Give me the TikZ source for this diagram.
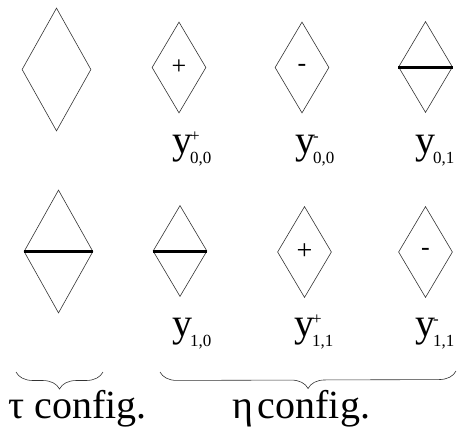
\documentclass[tikz,border=0pt]{standalone}
\usepackage{fontspec}
\setmainfont{Liberation Serif}
\usetikzlibrary{shapes.geometric,decorations.pathreplacing}
\newcommand\ylab[2]{\fontsize{40}{40}\selectfont y\kern-0.05em\rlap{\raisebox{0.3em}{\fontsize{17}{17}\selectfont #1}}\raisebox{-0.25em}{\fontsize{17}{17}\selectfont #2}}
\tikzset{
  dia/.style={draw=black!80, line width=0.6pt, shape=diamond, inner sep=0pt},
  bigdia/.style={dia, minimum width=69pt, minimum height=123pt},
  smalldia/.style={dia, minimum width=54pt, minimum height=91pt},
  bar/.style={line width=3pt, black},
  sign/.style={font=\fontsize{26}{26}\selectfont, inner sep=0pt},
  lab/.style={anchor=base west, inner sep=0pt},
  cfg/.style={anchor=base west, inner sep=0pt, font=\fontsize{40}{40}\selectfont},
  brc/.style={decorate, decoration={brace, amplitude=17pt, mirror}, line width=0.6pt, black!80}
}
\begin{document}
\begin{tikzpicture}[x=1pt, y=-1pt]
\useasboundingbox (0,0) rectangle (457,428);
% row 1
\node[bigdia] (t1) at (56.5,69.5) {};
\node[smalldia] (a1) at (179,67.5) {};
\node[smalldia] (b1) at (302,67.5) {};
\node[smalldia] (c1) at (425.5,67) {};
\node[sign] (sa1) at (a1.center) {+};
\node[sign] (sb1) at (b1.center) {-};
\draw[bar] (c1.west) -- (c1.east);
% row 2
\node[bigdia] (t2) at (58.5,251.5) {};
\node[smalldia] (a2) at (180,251) {};
\node[smalldia] (b2) at (304.5,252) {};
\node[smalldia] (c2) at (425.5,252) {};
\draw[bar] (t2.west) -- (t2.east);
\draw[bar] (a2.west) -- (a2.east);
\node[sign, font=\fontsize{28}{28}\selectfont] (sb2) at (b2.center) {+};
\node[sign] (sc2) at (c2.center) {-};
% labels
\node[lab] (la1) at (172,153) {\ylab{+}{0,0}};
\node[lab] (lb1) at (295,153) {\ylab{-}{0,0}};
\node[lab] (lc1) at (415,153) {\ylab{}{0,1}};
\node[lab] (la2) at (172,336) {\ylab{}{1,0}};
\node[lab] (lb2) at (294,336) {\ylab{+}{1,1}};
\node[lab] (lc2) at (415,336) {\ylab{-}{1,1}};
% braces
\coordinate (tl) at (16,372);
\coordinate (tr) at (103,372);
\coordinate (el) at (160,372);
\coordinate (er) at (456,371);
\draw[brc] (tl) -- (tr);
\draw[brc] (el) -- (er);
\node[cfg] (tc) at (8,418) {τ config.};
\node[cfg] (ec) at (232,418) {η\hspace{0.12em}config.};
\end{tikzpicture}
\end{document}
